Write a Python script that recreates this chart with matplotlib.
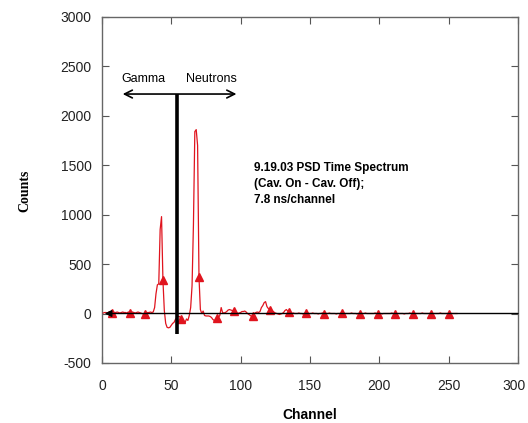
import matplotlib
matplotlib.use("Agg")
import matplotlib.pyplot as plt
import matplotlib.transforms as mtransforms
import numpy as np

# PSD time spectrum, cavitation on minus cavitation off (counts per channel)
channel = np.arange(1, 257)

counts_1_37 = [5, 10, 10, 5, 15, 20, 10, 15, 10, 10,
               15, 10, 5, 10, 15, 10, 10, 5, 15, 10,
               10, 15, 10, 5, 10, 15, 10, 5, 0, -5,
               0, 5, 10, 10, 15, 10, 15]
counts_38_75 = [60, 200, 290, 300, 850, 980, 340, 30, -100,
                -140, -145, -140, -120, -100, -90, -60, -40, -30, -30,
                -55, -80, -85, -90, -55, -70, -20, 60, 280, 900,
                1840, 1860, 1700, 370, 40, 0, 25, -20, -25]
counts_76_140 = [-25, -25, -30, -40, -60, -70, -70, -50, -40, -20,
                 60, 10, 5, 10, 20, 35, 40, 35, 30, 30,
                 10, 5, 0, 5, 10, 20, 20, 25, 15, 0,
                 -10, -20, -30, -30, 0, 10, 15, 10, 20, 60,
                 80, 110, 120, 70, 50, 40, 35, 25, 15, 5,
                 0, -5, -10, -5, 0, 10, 30, 40, 25, 15,
                 5, 0, 5, 0, 0]
counts_141_256 = [0, 5, 0, 0, -5, 0, 5, 0, 0, 0,
                  0, 5, 0, 0, 0, -5, 0, 0, 5, 0,
                  0, 0, 0, 5, 0, 0, 0, 0, -5, 0,
                  0, 0, 5, 0, 0, 0, 0, 0, 0, 5,
                  0, 0, 0, -5, 0, 0, 0, 0, 0, 5,
                  0, 0, 0, 0, 0, 0, 5, 0, 0, 0,
                  0, -5, 0, 0, 0, 0, 0, 0, 5, 0,
                  0, 0, 0, 0, 0, 0, 0, -5, 0, 0,
                  0, 5, 0, 0, 0, 0, 0, 0, 0, 0,
                  5, 0, 0, 0, 0, 0, 0, -5, 0, 0,
                  0, 0, 0, 5, 0, 0, 0, 0, 0, 0,
                  0, 0, 0, 0, 0, 0]
counts = np.array(counts_1_37 + counts_38_75 + counts_76_140 + counts_141_256)

# channels carrying a triangle symbol
marker_channels = [7, 20, 31, 44, 57, 70, 83, 95, 109, 121, 135, 147,
                   160, 173, 186, 199, 211, 224, 237, 250]

# gamma / neutron discrimination cut
cut_channel = 54
cut_range = (-210, 2220)
arrow_level = 2220
arrow_span = (15, 97)

x_ticks = [0, 50, 100, 150, 200, 250, 300]
y_ticks = [-500, 0, 500, 1000, 1500, 2000, 2500, 3000]

plt.rcParams['font.family'] = ['Liberation Sans', 'DejaVu Sans']
plt.rcParams['axes.unicode_minus'] = False

fig = plt.figure(figsize=(5.28, 4.23), dpi=100)
ax = fig.add_axes([0.193, 0.142, 0.788, 0.818])

red = '#e0141e'
idx = [int(np.where(channel == c)[0][0]) for c in marker_channels]
ax.plot(channel, counts, color=red, lw=0.9, marker='^', markersize=5.5,
        markevery=idx, markerfacecolor=red, markeredgecolor=red, zorder=3)

# zero line with arrow at the left end
ax.annotate('', xy=(2, 0), xytext=(300, 0),
            arrowprops=dict(arrowstyle='-|>', color='black', lw=1.0,
                            mutation_scale=10, shrinkA=0, shrinkB=0),
            zorder=4)

# cut line
ax.plot([cut_channel, cut_channel], cut_range, color='black', lw=2.6,
        solid_capstyle='butt', zorder=5)

# gamma / neutron double arrow
ax.annotate('', xy=(arrow_span[0], arrow_level), xytext=(arrow_span[1], arrow_level),
            arrowprops=dict(arrowstyle='<->', color='black', lw=1.2,
                            mutation_scale=14, shrinkA=0, shrinkB=0),
            zorder=5)
ax.text(30, 2370, 'Gamma', ha='center', va='center', fontsize=9)
ax.text(79, 2370, 'Neutrons', ha='center', va='center', fontsize=9)

ax.text(110, 1530, '9.19.03 PSD Time Spectrum\n(Cav. On - Cav. Off);\n7.8 ns/channel',
        ha='left', va='top', fontsize=8.5, fontweight='bold', linespacing=1.45)

ax.set_xlim(0, 300)
ax.set_ylim(-500, 3000)
ax.set_xticks(x_ticks)
ax.set_yticks(y_ticks)
ax.tick_params(direction='in', length=5, width=0.8, color='#555555',
               top=True, right=True, labelsize=10, labelcolor='#222222')
ax.tick_params(axis='x', pad=11.5)
ax.tick_params(axis='y', pad=7.5)
for s in ax.spines.values():
    s.set_color('#666666')
    s.set_linewidth(1.0)

# keep the last x tick label inside the figure
last_label = ax.get_xticklabels()[-1]
last_label.set_transform(last_label.get_transform() +
                         mtransforms.ScaledTranslation(-4 / 100, 0, fig.dpi_scale_trans))

ax.set_xlabel('Channel', fontsize=10, fontweight='bold', labelpad=11)
fig.text(0.047, 0.55, 'Counts', rotation=90, ha='center', va='center',
         fontsize=10, fontweight='bold', family=['Liberation Serif', 'DejaVu Serif'])

fig.savefig('out.png', dpi=100)
